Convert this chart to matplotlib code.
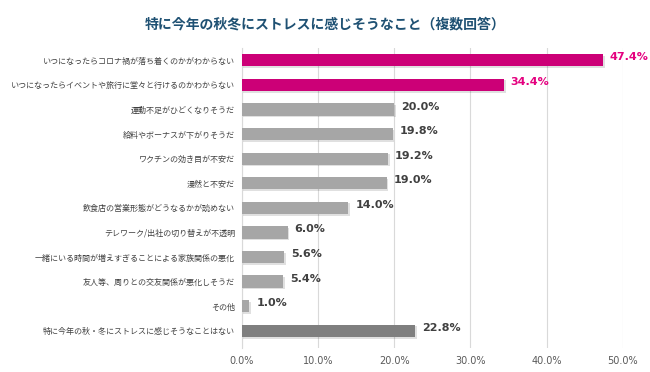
import matplotlib
matplotlib.use("Agg")
import matplotlib.pyplot as plt
import matplotlib.patheffects as pe

plt.rcParams['font.family'] = ['Noto Sans CJK JP', 'DejaVu Sans']

title = "特に今年の秋冬にストレスに感じそうなこと（複数回答）"
categories = [
    "いつになったらコロナ禍が落ち着くのかがわからない",
    "いつになったらイベントや旅行に堂々と行けるのかわからない",
    "運動不足がひどくなりそうだ",
    "給料やボーナスが下がりそうだ",
    "ワクチンの効き目が不安だ",
    "漫然と不安だ",
    "飲食店の営業形態がどうなるかが読めない",
    "テレワーク/出社の切り替えが不透明",
    "一緒にいる時間が増えすぎることによる家族関係の悪化",
    "友人等、周りとの交友関係が悪化しそうだ",
    "その他",
    "特に今年の秋・冬にストレスに感じそうなことはない",
]
values = [47.4, 34.4, 20.0, 19.8, 19.2, 19.0, 14.0, 6.0, 5.6, 5.4, 1.0, 22.8]
ticks = [0, 10, 20, 30, 40, 50]

PINK = "#CC0077"
PINK_TXT = "#E4007F"
GREY = "#A6A6A6"
DARK = "#7F7F7F"
bar_colors = [PINK, PINK] + [GREY] * 9 + [DARK]
txt_colors = [PINK_TXT, PINK_TXT] + ["#404040"] * 10

fig = plt.figure(figsize=(6.5, 3.72), dpi=100)
ax = fig.add_axes([0.372, 0.0645, 0.586, 0.8065])

y = list(range(len(categories)))
bars = ax.barh(y, values, height=0.5, color=bar_colors, zorder=3)
for b in bars:
    b.set_path_effects([pe.SimplePatchShadow(offset=(1.2, -1.2), shadow_rgbFace="#000000", alpha=0.12), pe.Normal()])

for yi, v, c in zip(y, values, txt_colors):
    ax.text(v + 0.9, yi - 0.12, f"{v:.1f}%", va="center", ha="left", fontsize=8,
            fontweight="bold", color=c, family="DejaVu Sans", zorder=4)

ax.set_xlim(0, 50)
ax.set_ylim(11.7, -0.5)
ax.set_xticks(ticks)
ax.set_xticklabels([f"{t:.1f}%" for t in ticks], fontsize=7, color="#595959", family="DejaVu Sans")
ax.set_yticks(y)
ax.set_yticklabels(categories, fontsize=5.8, color="#404040")
ax.tick_params(axis="both", length=0, pad=6)
ax.tick_params(axis="y", pad=5)
ax.grid(axis="x", color="#D9D9D9", linewidth=0.8, zorder=0)
for s in ["top", "right", "bottom"]:
    ax.spines[s].set_visible(False)
ax.spines["left"].set_color("#D9D9D9")
ax.spines["left"].set_linewidth(0.8)

fig.text(0.5, 0.935, title, ha="center", va="center", fontsize=10,
         fontweight="bold", color="#1F5173")

fig.savefig("out.png", dpi=100)
